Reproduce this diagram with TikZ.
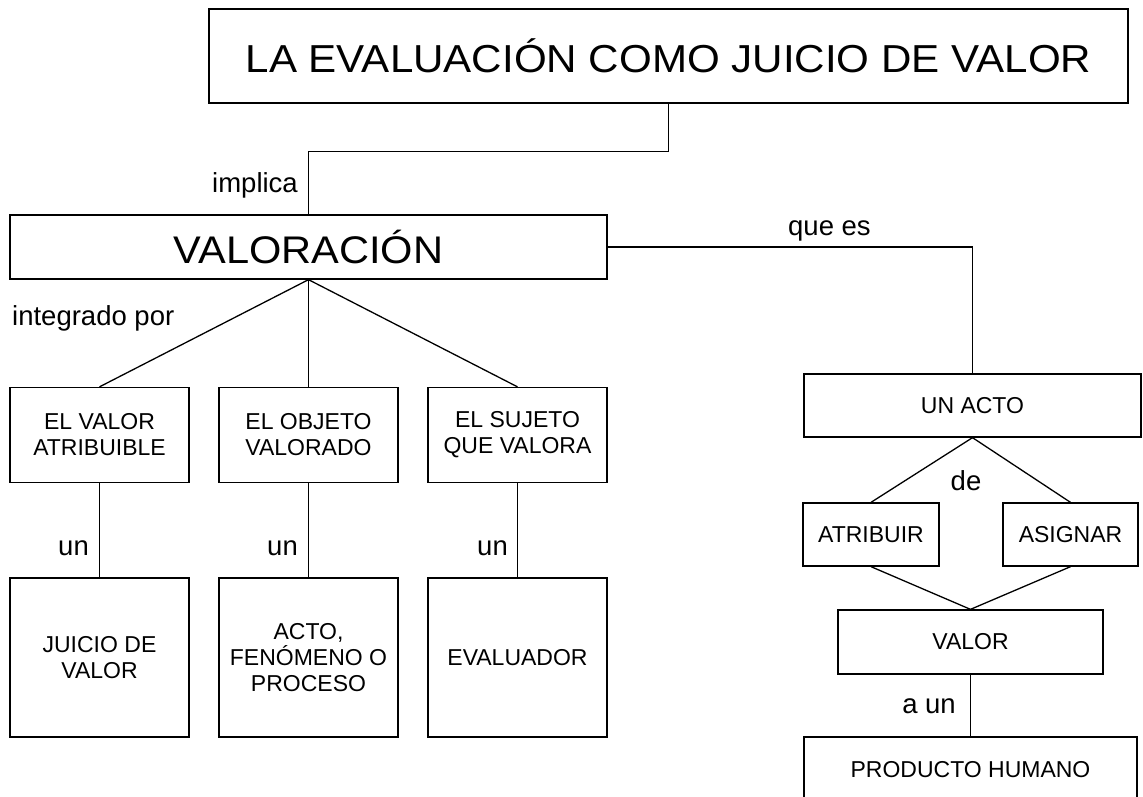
\documentclass[tikz,border=0pt]{standalone}
\usepackage{fontspec}
\setmainfont{Liberation Sans}
\newfontfamily\bigf{Liberation Sans}[FakeStretch=1.08]
\begin{document}
\begin{tikzpicture}[x=1pt,y=-1pt,
  box/.style={draw, line width=1.3pt, inner sep=0pt, align=center, font=\fontsize{23}{26}\selectfont},
  lbl/.style={inner sep=0pt, font=\fontsize{27.5}{32}\selectfont},
  conn/.style={line width=1.3pt}]
\clip (0,0) rectangle (1143,796);
% boxes
\node[box, minimum width=919pt, minimum height=94pt, font=\bigf\fontsize{39}{47}\selectfont] (title) at (668.5,56) {LA EVALUACIÓN COMO JUICIO DE VALOR};
\node[box, minimum width=597pt, minimum height=64pt, font=\bigf\fontsize{38.5}{46}\selectfont] (valo) at (308.5,247) {VALORACIÓN};
\node[box, minimum width=179pt, minimum height=95pt] (b1) at (99.5,435) {EL VALOR\\ATRIBUIBLE};
\node[box, minimum width=179pt, minimum height=95pt] (b2) at (308.5,435) {EL OBJETO\\VALORADO};
\node[box, minimum width=179pt, minimum height=95pt] (b3) at (517.5,435) {EL SUJETO\\QUE VALORA};
\node[box, minimum width=179pt, minimum height=159pt] (c1) at (99.5,657.5) {JUICIO DE\\VALOR};
\node[box, minimum width=179pt, minimum height=159pt] (c2) at (308.5,657.5) {ACTO,\\FENÓMENO O\\PROCESO};
\node[box, minimum width=179pt, minimum height=159pt] (c3) at (517.5,657.5) {EVALUADOR};
\node[box, minimum width=337pt, minimum height=63pt] (acto) at (972.5,405.5) {UN ACTO};
\node[box, minimum width=136pt, minimum height=63pt] (atri) at (871,534.5) {ATRIBUIR};
\node[box, minimum width=135pt, minimum height=63pt] (asig) at (1070.5,534.5) {ASIGNAR};
\node[box, minimum width=265pt, minimum height=64pt] (valor) at (970.5,642) {VALOR};
\node[box, minimum width=333pt, minimum height=66pt] (prod) at (970.5,770) {PRODUCTO HUMANO};
% connectors
\draw[conn] (title.south) -- ++(0,48) -| (valo.north);
\draw[conn] (valo.east) -| (acto.north);
\draw[conn] (valo.south) -- (b1.north);
\draw[conn] (valo.south) -- (b2.north);
\draw[conn] (valo.south) -- (b3.north);
\draw[conn] (b1.south) -- (c1.north);
\draw[conn] (b2.south) -- (c2.north);
\draw[conn] (b3.south) -- (c3.north);
\draw[conn] (acto.south) -- (atri.north);
\draw[conn] (acto.south) -- (asig.north);
\draw[conn] (atri.south) -- (valor.north);
\draw[conn] (asig.south) -- (valor.north);
\draw[conn] (valor.south) -- (prod.north);
% labels
\node[lbl, anchor=base east] (limp) at (298,192) {implica};
\node[lbl, anchor=base west] (lint) at (12,325) {integrado por};
\node[lbl, anchor=base west] (lque) at (788,235) {que es};
\node[lbl, anchor=base east] (lun1) at (89,555) {un};
\node[lbl, anchor=base east] (lun2) at (298,555) {un};
\node[lbl, anchor=base east] (lun3) at (508,555) {un};
\node[lbl, anchor=base] (lde) at (966,490) {de};
\node[lbl, anchor=base east] (laun) at (956,713) {a un};
\end{tikzpicture}
\end{document}
